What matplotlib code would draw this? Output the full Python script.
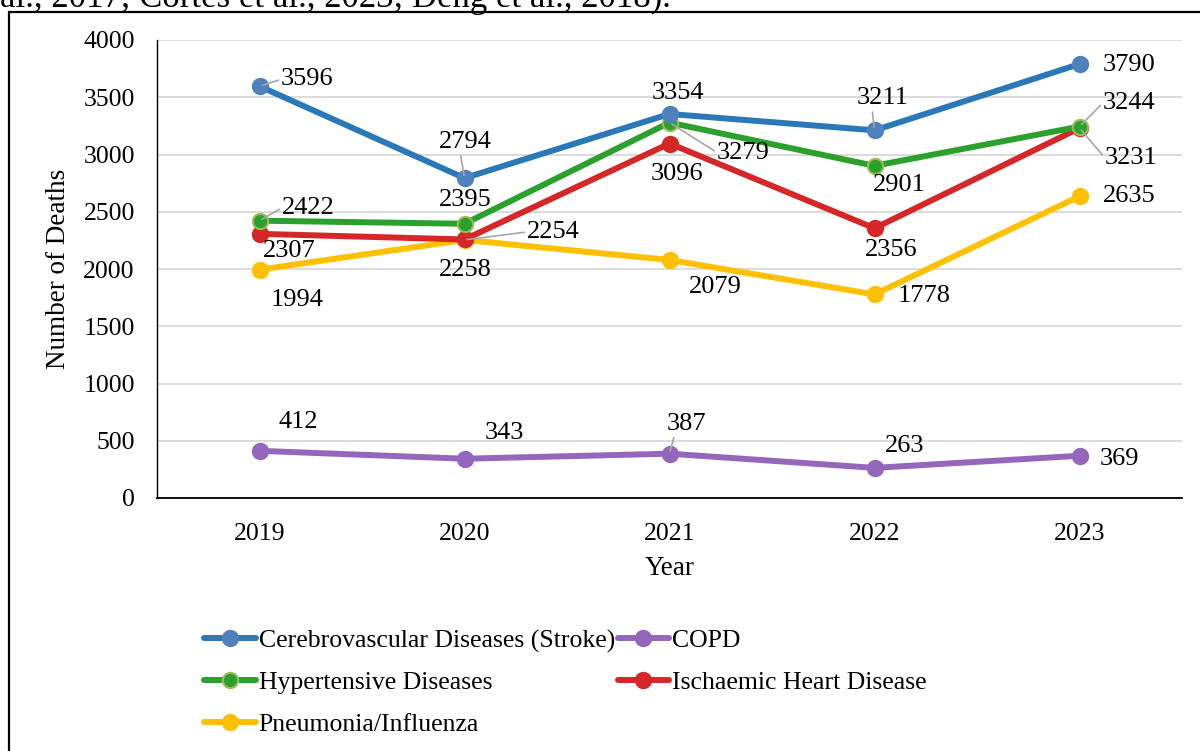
import numpy as np
import matplotlib
matplotlib.use("Agg")
import matplotlib.pyplot as plt
from matplotlib.patches import Rectangle

plt.rcParams['font.family'] = ['Liberation Serif', 'DejaVu Serif']

years = ['2019', '2020', '2021', '2022', '2023']
stroke = [3596, 2794, 3354, 3211, 3790]
copd = [412, 343, 387, 263, 369]
hypertensive = [2422, 2395, 3279, 2901, 3244]
ischaemic = [2307, 2258, 3096, 2356, 3231]
pneumonia = [1994, 2254, 2079, 1778, 2635]

series_names = ['Cerebrovascular Diseases (Stroke)', 'COPD', 'Hypertensive Diseases',
                'Ischaemic Heart Disease', 'Pneumonia/Influenza']

# label offsets in pixels (dx, dy) from each point
label_offsets = {
    'stroke': [(48, 7), (1, 36), (8, 21), (8, 32), (50, -1)],
    'hyper': [(49, 13), (1, 24), (74, -30), (25, -19), (50, 24)],
    'isch': [(30, -17), (1, -31), (8, -30), (17, -22), (52, -30)],
    'pneu': [(38, -30), (89, 8), (46, -27), (50, -2), (50, 0)],
    'copd': [(39, 29), (40, 26), (17, 30), (30, 22), (40, -3)],
}
# (point index, start of leader line relative to the label box)
leaders = {
    'stroke': [(0, (0, 0.5)), (1, (0.4, 0)), (3, (0.3, 0))],
    'hyper': [(0, (0, 0.5)), (2, (0, 0.5)), (4, (0, 0.5))],
    'isch': [(4, (0, 0.5))],
    'pneu': [(1, (0, 0.5))],
    'copd': [(2, (0.2, 0))],
}

fig = plt.figure(figsize=(12, 7.51), dpi=100)
ax = fig.add_axes([157 / 1200, 1 - 498 / 751, (1182 - 157) / 1200, (498 - 40) / 751])

x = np.arange(len(years))
styles = [
    ('stroke', stroke, '#2a78b8', '#4f81bd', '#4f81bd'),
    ('copd', copd, '#9467bd', '#9467bd', '#9467bd'),
    ('hyper', hypertensive, '#2ca02c', '#2ca02c', '#9bbb59'),
    ('isch', ischaemic, '#d62728', '#d62728', '#d62728'),
    ('pneu', pneumonia, '#ffc000', '#ffc000', '#ffc000'),
]

handles = {}
draw_order = ['copd', 'pneu', 'isch', 'hyper', 'stroke']
for key, vals, lc, mc, ec in sorted(styles, key=lambda s: draw_order.index(s[0])):
    ln, = ax.plot(x, vals, color=lc, lw=4.3, marker='o', markersize=11,
                  markerfacecolor=mc, markeredgecolor=ec, markeredgewidth=1.5,
                  solid_capstyle='round', zorder=3)
    handles[key] = ln
    lead = dict(leaders.get(key, []))
    for i, v in enumerate(vals):
        dx, dy = label_offsets[key][i]
        kw = {}
        if i in lead:
            kw['arrowprops'] = dict(arrowstyle='-', color='#a6a6a6', lw=1.2,
                                    relpos=lead[i], shrinkA=0, shrinkB=2)
        ax.annotate(str(v), (x[i], v), xytext=(dx, dy), textcoords='offset pixels',
                    ha='center', va='center', fontsize=19, color='black', zorder=4, **kw)

ax.set_xlim(-0.5, 4.5)
ax.set_ylim(0, 4000)
ax.set_yticks(np.arange(0, 4001, 500))
ax.set_xticks(x)
ax.set_xticklabels(years)
ax.tick_params(axis='both', length=0, labelsize=18.5)
ax.tick_params(axis='y', pad=16)
ax.tick_params(axis='x', pad=18)
ax.grid(axis='y', color='#d9d9d9', lw=1.3)
ax.set_axisbelow(True)
for s in ['top', 'right']:
    ax.spines[s].set_visible(False)
ax.spines['left'].set_color('black')
ax.spines['bottom'].set_color('black')
ax.spines['left'].set_linewidth(1.0)
ax.spines['bottom'].set_linewidth(1.3)

ax.set_xlabel('Year', fontsize=19.5, labelpad=8)
ax.set_ylabel('Number of Deaths', fontsize=19.5, labelpad=9)

order = ['stroke', 'hyper', 'pneu', 'copd', 'isch']
name_map = dict(zip(['stroke', 'copd', 'hyper', 'isch', 'pneu'], series_names))
fig.legend([handles[k] for k in order], [name_map[k] for k in order],
           loc='upper left', bbox_to_anchor=(194 / 1200, 1 - 619 / 751), ncol=2,
           frameon=False, fontsize=18.5, handlelength=2.0, handletextpad=0.12,
           columnspacing=0.1, labelspacing=0.72, borderaxespad=0)

# frame around the figure and the cut-off text line above it
fig.patches.append(Rectangle((9 / 1200, -0.05), 1.1, 1 - 12 / 751 + 0.05,
                             transform=fig.transFigure, fill=False, ec='black', lw=1.6))
fig.text(0.0, 1 - 7 / 751, 'al., 2017; Cortés et al., 2023; Deng et al., 2018).',
         fontsize=25, va='baseline', ha='left')

fig.savefig('out.png', dpi=100)
